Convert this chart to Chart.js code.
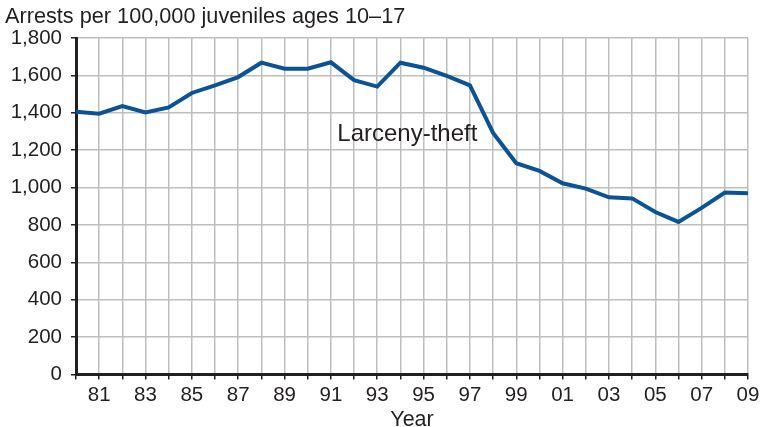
<!DOCTYPE html>
<html>
<head>
<meta charset="utf-8">
<script src="https://cdn.jsdelivr.net/npm/chart.js@4/dist/chart.umd.min.js"></script>
<style>
  html, body { margin: 0; padding: 0; background: #fff; }
  #wrap { width: 765px; height: 427px; }
</style>
</head>
<body>
<div id="wrap"><canvas id="chart-larceny"></canvas></div>
<script>
// Tasa de arrestos por hurto, 1980-2009
var years = [1980, 1981, 1982, 1983, 1984, 1985, 1986, 1987, 1988, 1989,
             1990, 1991, 1992, 1993, 1994, 1995, 1996, 1997, 1998, 1999,
             2000, 2001, 2002, 2003, 2004, 2005, 2006, 2007, 2008, 2009];
var larcenyRates = [1406, 1395, 1436, 1402, 1429, 1506, 1547, 1591, 1668, 1636,
                    1636, 1670, 1575, 1540, 1668, 1641, 1597, 1547, 1292, 1130,
                    1089, 1023, 994, 948, 942, 869, 816, 891, 973, 969];
var yTicks = [0, 200, 400, 600, 800, 1000, 1200, 1400, 1600, 1800];

var ink = '#231f20';
var gridGray = '#bcbec0';
var fontName = '"Liberation Sans", Arial, Helvetica, sans-serif';

// Textos fijos: título del eje Y, título del eje X y etiqueta de la serie
var textos = {
    id: 'textos',
    afterDraw: function (chart) {
        var ctx = chart.ctx;
        var area = chart.chartArea;
        ctx.save();
        ctx.fillStyle = ink;
        ctx.textBaseline = 'alphabetic';

        ctx.font = '21.7px ' + fontName;
        ctx.textAlign = 'left';
        ctx.fillText('Arrests per 100,000 juveniles ages 10\u201317', 5, 23);

        ctx.font = '21.5px ' + fontName;
        ctx.textAlign = 'center';
        ctx.fillText('Year', (area.left + area.right) / 2, 426);

        ctx.font = '24px ' + fontName;
        var x = chart.scales.x.getPixelForValue(1994.3);
        var y = chart.scales.y.getPixelForValue(1249);
        ctx.fillText('Larceny-theft', x, y);
        ctx.restore();
    }
};

var contexto = document.getElementById('chart-larceny').getContext('2d');
var chartLarceny = new Chart(contexto, {
    type: 'line',
    data: {
        datasets: [{
            label: 'Larceny-theft',
            data: years.map(function (yr, i) { return { x: yr, y: larcenyRates[i] }; }),
            borderColor: '#0b5394',
            borderWidth: 4,
            pointRadius: 0,
            tension: 0,
            fill: false
        }]
    },
    options: {
        responsive: true,
        maintainAspectRatio: false,
        animation: false,
        devicePixelRatio: 1,
        layout: {
            padding: { top: 38, right: 17, left: 0, bottom: 0 }
        },
        plugins: {
            legend: { display: false },
            tooltip: { enabled: false }
        },
        scales: {
            x: {
                type: 'linear',
                min: 1980,
                max: 2009,
                afterBuildTicks: function (axis) {
                    axis.ticks = years.map(function (v) { return { value: v }; });
                },
                afterFit: function (axis) { axis.height = 52.5; },
                ticks: {
                    autoSkip: false,
                    maxRotation: 0,
                    color: ink,
                    padding: 4,
                    font: { size: 20.5, family: fontName },
                    callback: function (v) {
                        if (v % 2 === 0) return '';
                        return String(v % 100).padStart(2, '0');
                    }
                },
                grid: {
                    color: gridGray,
                    lineWidth: 1.5,
                    tickColor: ink,
                    tickLength: 5
                },
                border: { color: ink, width: 3 }
            },
            y: {
                min: 0,
                max: 1800,
                afterBuildTicks: function (axis) {
                    axis.ticks = yTicks.map(function (v) { return { value: v }; });
                },
                afterFit: function (axis) { axis.width = 76; },
                ticks: {
                    color: ink,
                    padding: 9,
                    font: { size: 20.5, family: fontName },
                    callback: function (v) { return v.toLocaleString('en-US'); }
                },
                grid: {
                    color: gridGray,
                    lineWidth: 1.5,
                    tickColor: ink,
                    tickLength: 5
                },
                border: { color: ink, width: 3 }
            }
        }
    },
    plugins: [textos]
});
</script>
</body>
</html>
